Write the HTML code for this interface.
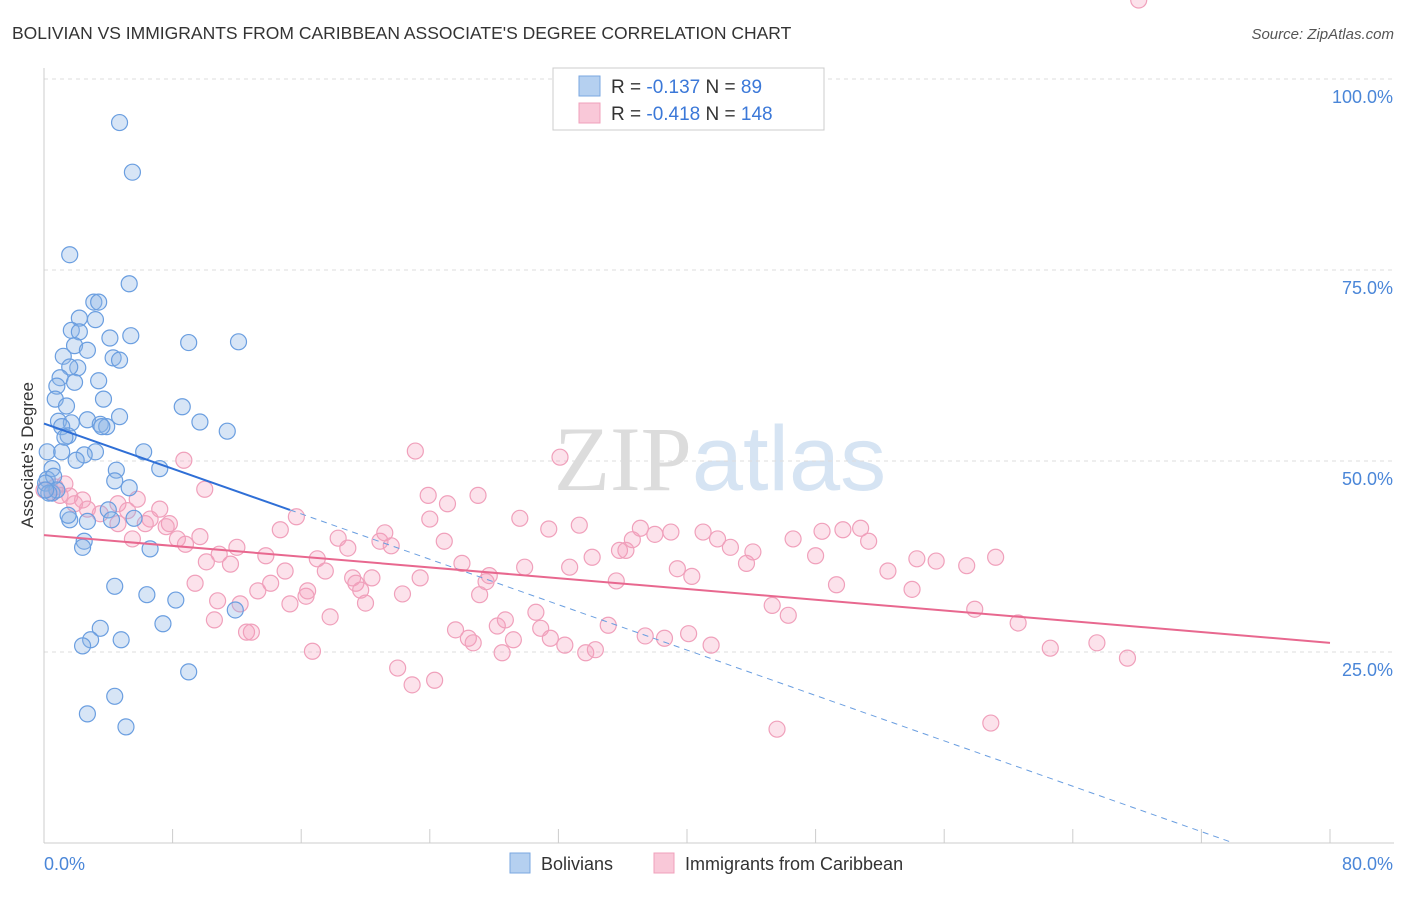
<!DOCTYPE html>
<html><head><meta charset="utf-8"><style>
body{margin:0;background:#fff;font-family:"Liberation Sans",sans-serif}
svg text{font-family:"Liberation Sans",sans-serif}
</style></head><body>
<svg id="chart" width="1406" height="892" viewBox="0 0 1406 892" xmlns="http://www.w3.org/2000/svg">
<text x="12" y="39" font-size="17.5" fill="#333">BOLIVIAN VS IMMIGRANTS FROM CARIBBEAN ASSOCIATE'S DEGREE CORRELATION CHART</text>
<text x="1394" y="39" font-size="15" fill="#555" text-anchor="end" font-style="italic">Source: ZipAtlas.com</text>
<text x="720" y="490" font-size="92" text-anchor="middle" fill="#e6e6e6"><tspan font-family="Liberation Serif" fill="#dcdcdc">ZIP</tspan><tspan fill="#d6e4f3">atlas</tspan></text>
<g id="grid"></g><g id="axes"></g><g id="pts"></g><g id="trend"></g>
<text transform="translate(33,455) rotate(-90)" font-size="17" fill="#333" text-anchor="middle">Associate's Degree</text>
<g>
<rect x="553" y="68" width="271" height="62" fill="#fff" stroke="#ccc"/>
<rect x="579" y="76" width="21" height="20" fill="#b5d0f0" stroke="#7aa7e0"/>
<rect x="579" y="103" width="21" height="20" fill="#f9c8d8" stroke="#f0a0bb"/>
<text x="611" y="93" font-size="19" fill="#333">R = <tspan fill="#3b78d8">-0.137</tspan>   N = <tspan fill="#3b78d8"> 89</tspan></text>
<text x="611" y="120" font-size="19" fill="#333">R = <tspan fill="#3b78d8">-0.418</tspan>   N = <tspan fill="#3b78d8">148</tspan></text>
</g>
<g>
<rect x="510" y="853" width="20" height="20" fill="#b5d0f0" stroke="#7aa7e0"/>
<text x="541" y="870" font-size="18" fill="#333">Bolivians</text>
<rect x="654" y="853" width="20" height="20" fill="#f9c8d8" stroke="#f0a0bb"/>
<text x="685" y="870" font-size="18" fill="#333">Immigrants from Caribbean</text>
</g>
</svg>
<script>
const blueX=[4.7,5.5,1.6,5.3,3.1,3.4,2.2,3.2,1.7,2.2,4.1,5.4,1.9,9.0,12.1,2.7,1.2,4.3,4.7,2.1,1.6,3.4,1.0,1.9,0.8,0.7,3.7,1.4,8.6,0.9,2.7,4.7,9.7,11.4,1.7,3.5,1.1,3.9,3.6,1.5,1.3,6.2,0.2,3.2,2.5,1.1,2.0,7.2,4.5,0.5,0.2,4.4,0.6,0.1,5.3,0.5,0.8,0.3,0.1,4.0,5.6,1.6,2.7,4.2,1.5,6.6,2.5,2.4,4.4,6.4,8.2,11.9,7.4,3.5,2.9,4.8,2.4,9.0,4.4,2.7,5.1];
const blueY=[94.3,87.8,77.0,73.2,70.8,70.8,68.7,68.5,67.1,66.9,66.1,66.4,65.1,65.5,65.6,64.5,63.7,63.5,63.2,62.2,62.3,60.5,60.9,60.3,59.8,58.1,58.1,57.2,57.1,55.2,55.4,55.8,55.1,53.9,55.0,54.8,54.5,54.5,54.5,53.3,53.1,51.2,51.2,51.2,50.8,51.2,50.1,49.0,48.8,49.0,47.6,47.4,48.0,47.1,46.5,45.8,46.2,45.8,46.2,43.6,42.5,42.3,42.1,42.3,42.9,38.5,39.5,38.7,33.6,32.5,31.8,30.5,28.7,28.1,26.6,26.6,25.8,22.4,19.2,16.9,15.2];
const pinkX=[0,0.5,1.0,1.6,2.4,0.7,1.3,1.9,2.7,3.5,4.6,5.2,5.8,6.6,7.2,7.8,8.7,10.0,4.6,5.5,6.3,7.6,8.3,8.8,9.7,10.1,10.9,11.6,12.0,9.4,10.6,10.8,12.2,12.6,12.9,13.3,13.8,14.1,14.7,15.0,15.3,15.7,16.3,16.4,16.7,17.0,17.5,17.8,18.3,18.9,19.2,19.4,19.7,20.0,20.4,20.9,21.2,21.6,22.3,22.0,22.9,23.1,23.4,24.0,24.3,23.9,24.9,25.1,25.6,26.0,26.4,26.7,27.0,27.1,27.5,27.7,28.2,28.5,28.7,29.2,29.6,29.9,30.6,30.9,31.4,31.5,32.1,32.4,32.7,33.3,33.7,34.1,34.3,35.1,35.6,35.8,36.2,36.6,37.1,37.4,38.0,38.6,39.0,39.4,40.1,40.3,41.0,41.5,41.9,42.7,43.7,44.1,45.3,45.6,46.3,46.6,48.0,48.4,49.3,49.7,50.8,51.3,52.5,54.0,54.3,55.5,57.4,57.9,58.9,59.2,60.6,62.6,65.5,67.4,68.1];
const pinkY=[46.2,45.9,45.5,45.4,44.9,46.6,47.0,44.4,43.7,43.1,44.4,43.5,45.0,42.4,43.7,41.8,50.1,46.3,41.8,39.8,41.8,41.4,39.8,39.1,40.1,36.8,37.8,36.5,38.7,34.0,29.2,31.7,31.3,27.6,27.6,33.0,37.6,34.0,41.0,35.6,31.3,42.7,32.3,33.0,25.1,37.2,35.6,29.6,39.9,38.6,34.7,34.0,33.1,31.4,34.7,39.5,40.6,38.9,32.6,22.9,20.7,51.3,34.7,42.4,21.3,45.5,39.5,44.4,27.9,36.6,26.8,26.2,45.5,32.5,34.2,35.0,28.4,24.9,29.2,26.6,42.5,36.1,30.2,28.1,41.1,26.8,50.5,25.9,36.1,41.6,24.9,37.4,25.3,28.5,34.3,38.3,38.3,39.7,41.2,27.1,40.4,26.8,40.7,35.9,27.4,34.9,40.7,25.9,39.8,38.7,36.6,38.1,31.1,14.9,29.8,39.8,37.6,40.8,33.8,41.0,41.2,39.5,35.6,33.2,37.2,36.9,36.3,30.6,15.7,37.4,28.8,25.5,26.2,24.2];
const blueTrend=[0,54.9,15.3,43.6,74.0,0];
const pinkTrend=[0,40.3,80,26.2];
const yTicks=[25,50,75,100];
const yTickLabels=["25.0%","50.0%","75.0%","100.0%"];
const NS="http://www.w3.org/2000/svg";
const X=v=>44+v/80*1286, Y=v=>843-v/100*764;
function mk(tag,attrs,parent){const e=document.createElementNS(NS,tag);for(const k in attrs)e.setAttribute(k,attrs[k]);parent.appendChild(e);return e;}
const grid=document.getElementById('grid'),axes=document.getElementById('axes'),pts=document.getElementById('pts'),trend=document.getElementById('trend');
yTicks.forEach((t,i)=>{
 const l=mk('line',{x1:44,x2:1394,y1:Y(t),y2:Y(t),stroke:'#ddd','stroke-dasharray':'4,4'},grid);
 
 
 const tx=mk('text',{x:1393,y:Y(t)+24,'font-size':18,fill:'#4a86d8','text-anchor':'end'},grid);
 tx.textContent=yTickLabels[i];
 
 
});
const tl=mk('line',{x1:44,x2:1394,y1:79,y2:79,stroke:'#ddd','stroke-dasharray':'4,4'},grid);


const ya=mk('line',{x1:44,x2:44,y1:68,y2:843,stroke:'#ccc'},axes);


const xa=mk('line',{x1:44,x2:1394,y1:843,y2:843,stroke:'#ccc'},axes);


for(let i=0;i<=10;i++){const tk=mk('line',{x1:X(i*8),x2:X(i*8),y1:829,y2:843,stroke:'#ccc'},axes);
 
 }
const x0=mk('text',{x:44,y:870,'font-size':18,fill:'#4a86d8'},axes);x0.textContent='0.0%';


const x1=mk('text',{x:1393,y:870,'font-size':18,fill:'#4a86d8','text-anchor':'end'},axes);x1.textContent='80.0%';


pinkX.forEach((v,i)=>{const c=mk('circle',{cx:X(v),cy:Y(pinkY[i]),r:8,fill:'rgba(244,160,190,0.3)',stroke:'#f0a0bb','stroke-width':1.2},pts);
 
 });
blueX.forEach((v,i)=>{const c=mk('circle',{cx:X(v),cy:Y(blueY[i]),r:8,fill:'rgba(140,180,230,0.35)',stroke:'#6a9ee0','stroke-width':1.2},pts);
 
 });
const b1=mk('line',{x1:X(blueTrend[0]),y1:Y(blueTrend[1]),x2:X(blueTrend[2]),y2:Y(blueTrend[3]),stroke:'#2f6fd6','stroke-width':2},trend);


const b2=mk('line',{x1:X(blueTrend[2]),y1:Y(blueTrend[3]),x2:X(blueTrend[4]),y2:Y(blueTrend[5]),stroke:'#6a9ee0','stroke-width':1,'stroke-dasharray':'6,5'},trend);


const p1=mk('line',{x1:X(pinkTrend[0]),y1:Y(pinkTrend[1]),x2:X(pinkTrend[2]),y2:Y(pinkTrend[3]),stroke:'#e8688f','stroke-width':2},trend);


</script>
</body></html>
